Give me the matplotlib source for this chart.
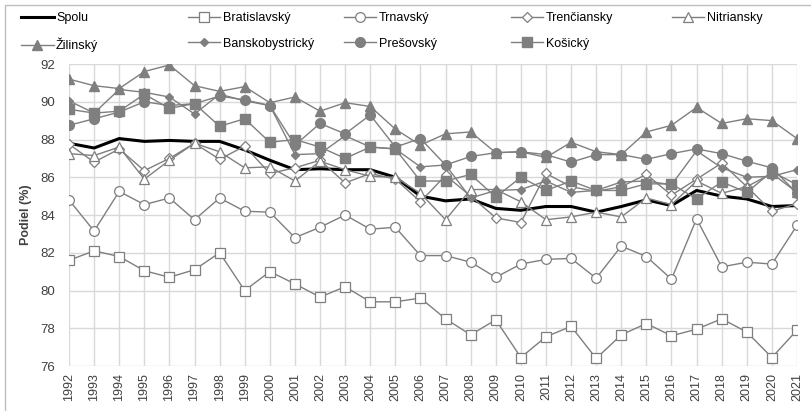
import matplotlib
matplotlib.use("Agg")
import matplotlib.pyplot as plt
from matplotlib.patches import Rectangle

plt.rcParams['font.family'] = ['Liberation Sans', 'DejaVu Sans']

# data
years = list(range(1992, 2022))
spolu = [87.8, 87.55, 88.05, 87.9, 87.95, 87.9, 87.9, 87.45, 86.9, 86.4, 86.45, 86.4, 86.4, 86.0, 85.0,
         84.75, 84.85, 84.35, 84.25, 84.45, 84.45, 84.15, 84.45, 84.8, 84.5, 85.3, 85.0, 84.85, 84.45, 84.5]
bratislavsky = [81.6, 82.1, 81.8, 81.05, 80.7, 81.1, 82.0, 80.0, 81.0, 80.35, 79.65, 80.2, 79.4, 79.4, 79.6,
                78.5, 77.65, 78.45, 76.45, 77.55, 78.1, 76.4, 77.65, 78.25, 77.6, 77.95, 78.5, 77.8, 76.45, 77.9]
trnavsky = [84.8, 83.15, 85.25, 84.55, 84.9, 83.75, 84.9, 84.2, 84.15, 82.8, 83.35, 84.0, 83.25, 83.35, 81.85,
            81.85, 81.5, 80.7, 81.4, 81.65, 81.7, 80.65, 82.35, 81.8, 80.6, 83.8, 81.25, 81.5, 81.4, 83.45]
trenciansky = [87.75, 86.8, 87.5, 86.35, 87.0, 87.8, 86.95, 87.65, 86.2, 86.5, 86.9, 85.7, 86.2, 85.9, 84.7,
               86.1, 85.0, 83.85, 83.6, 86.2, 85.5, 85.25, 85.5, 86.15, 85.05, 85.9, 86.75, 85.5, 84.2, 84.6]
nitriansky = [87.25, 87.15, 87.6, 85.9, 86.9, 87.8, 87.35, 86.5, 86.55, 85.8, 86.85, 86.4, 86.05, 86.0, 85.15,
              83.75, 85.35, 85.35, 84.7, 83.75, 83.9, 84.15, 83.9, 84.9, 84.55, 85.8, 85.15, 85.5, 86.2, 85.2]
zilinsky = [91.2, 90.85, 90.7, 91.6, 91.95, 90.85, 90.55, 90.8, 89.95, 90.25, 89.5, 89.95, 89.75, 88.55, 87.7,
            88.3, 88.4, 87.3, 87.35, 87.05, 87.85, 87.35, 87.2, 88.4, 88.75, 89.7, 88.85, 89.1, 89.0, 88.05]
banskobystricky = [90.05, 89.4, 90.65, 90.5, 90.25, 89.35, 90.4, 90.05, 89.8, 87.2, 87.25, 88.2, 87.6, 87.5, 86.55,
                   86.65, 84.9, 85.3, 85.35, 85.8, 85.2, 85.3, 85.75, 85.8, 85.6, 87.4, 86.5, 86.0, 86.05, 86.4]
presovsky = [88.75, 89.1, 89.45, 90.0, 89.8, 89.9, 90.3, 90.1, 89.8, 87.7, 88.85, 88.3, 89.3, 87.6, 88.05,
             86.65, 87.1, 87.3, 87.35, 87.2, 86.8, 87.2, 87.2, 86.95, 87.25, 87.5, 87.25, 86.85, 86.5, 85.15]
kosicky = [89.6, 89.4, 89.5, 90.4, 89.65, 89.9, 88.7, 89.1, 87.85, 88.0, 87.6, 87.0, 87.6, 87.5, 85.8,
           85.8, 86.15, 84.95, 86.0, 85.3, 85.8, 85.3, 85.3, 85.65, 85.65, 84.85, 85.75, 85.2, 86.3, 85.6]

GRAY = '#7f7f7f'

fig = plt.figure(figsize=(8.12, 4.11), dpi=100)
ax = fig.add_axes([69 / 812, 1 - 366 / 411, (797 - 69) / 812, (366 - 64) / 411])

# outer chart border
fig.patches.append(Rectangle((5 / 812, -0.02), 1.0, 1 - 5 / 411 + 0.02, transform=fig.transFigure,
                             fill=False, edgecolor='#bfbfbf', linewidth=1.0))

ax.plot(years, spolu, color='black', lw=2.2, label='Spolu', zorder=3)

# open markers
ax.plot(years, bratislavsky, color=GRAY, lw=1.0, marker='s', ms=6.5, mfc='white', mec=GRAY, mew=0.9,
        label='Bratislavský', zorder=4)
ax.plot(years, trnavsky, color=GRAY, lw=1.0, marker='o', ms=7, mfc='white', mec=GRAY, mew=0.9,
        label='Trnavský', zorder=4)
ax.plot(years, trenciansky, color=GRAY, lw=1.0, marker='D', ms=5, mfc='white', mec=GRAY, mew=0.9,
        label='Trenčiansky', zorder=4)
ax.plot(years, nitriansky, color=GRAY, lw=1.0, marker='^', ms=7, mfc='white', mec=GRAY, mew=0.9,
        label='Nitriansky', zorder=4)

# filled markers
ax.plot(years, zilinsky, color=GRAY, lw=1.0, marker='^', ms=7, mfc=GRAY, mec=GRAY,
        label='Žilinský', zorder=5)
ax.plot(years, banskobystricky, color=GRAY, lw=1.0, marker='D', ms=4.5, mfc=GRAY, mec=GRAY,
        label='Banskobystrický', zorder=5)
ax.plot(years, presovsky, color=GRAY, lw=1.0, marker='o', ms=7, mfc=GRAY, mec=GRAY,
        label='Prešovský', zorder=5)
ax.plot(years, kosicky, color=GRAY, lw=1.0, marker='s', ms=7, mfc=GRAY, mec=GRAY,
        label='Košický', zorder=5)

ax.set_xlim(1992, 2021)
ax.set_ylim(76, 92)
ax.set_xticks(years)
ax.set_xticklabels([str(y) for y in years], rotation=90, fontsize=9, color='#404040')
ax.set_yticks(range(76, 93, 2))
ax.tick_params(axis='y', labelsize=9.5, colors='#404040', length=0, pad=10)
ax.tick_params(axis='x', length=0, pad=5)
ax.grid(True, color='#d9d9d9', lw=1.0)
ax.set_axisbelow(True)
for s in ax.spines.values():
    s.set_visible(False)

ax.set_ylabel('Podiel (%)', fontsize=9, fontweight='bold', color='#404040', labelpad=6)

# legend: Excel-style fixed-width columns, one small legend per column
h, l = ax.get_legend_handles_labels()
columns = [[0, 5], [1, 6], [2, 7], [3, 8], [4]]
col_x = [21, 188, 344, 511, 672]
for idx, x0 in zip(columns, col_x):
    fig.legend([h[i] for i in idx], [l[i] for i in idx], loc='upper left',
               bbox_to_anchor=(x0 / 812, 1 - 12 / 411), frameon=False, fontsize=9,
               handlelength=2.6, handletextpad=0.2, labelspacing=1.1,
               borderaxespad=0, borderpad=0)

fig.savefig('out.png', dpi=100)
